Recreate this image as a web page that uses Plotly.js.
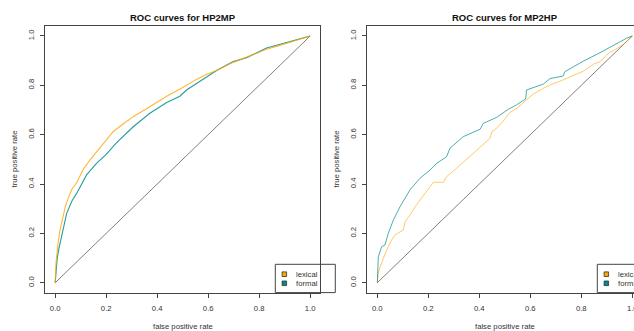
<!DOCTYPE html>
<html>
<head>
<meta charset="utf-8">
<script src="https://cdn.plot.ly/plotly-3.0.1.min.js"></script>
<style>html,body{margin:0;padding:0;background:#fff;}#chart{width:634px;height:331px;}</style>
</head>
<body>
<div id="chart"></div>
<script>
// ---- data ----
const panelTitles = ["ROC curves for HP2MP", "ROC curves for MP2HP"];
const seriesNames = ["lexical", "formal"];
const tickVals = [0, 0.2, 0.4, 0.6, 0.8, 1.0];
const tickText = ["0.0", "0.2", "0.4", "0.6", "0.8", "1.0"];
const diagX = [0, 1];
const diagY = [0, 1];

const hp2mpLexicalFpr = [0,0.003,0.010,0.018,0.031,0.040,0.058,0.066,0.084,0.110,0.136,0.169,0.188,0.227,0.262,0.306,0.371,0.437,0.502,0.550,0.594,0.633,0.698,0.751,0.829,0.881,0.940,1];
const hp2mpLexicalTpr = [0,0.079,0.150,0.210,0.268,0.310,0.362,0.380,0.405,0.460,0.497,0.538,0.565,0.612,0.640,0.673,0.713,0.756,0.792,0.822,0.845,0.860,0.893,0.915,0.946,0.962,0.980,1];

const hp2mpFormalFpr = [0,0.003,0.008,0.015,0.025,0.045,0.065,0.084,0.123,0.162,0.200,0.241,0.306,0.371,0.437,0.489,0.515,0.567,0.600,0.633,0.698,0.751,0.829,0.881,0.940,1];
const hp2mpFormalTpr = [0,0.051,0.100,0.140,0.190,0.281,0.330,0.362,0.437,0.484,0.520,0.568,0.632,0.687,0.730,0.756,0.781,0.815,0.840,0.860,0.896,0.912,0.951,0.966,0.985,1];

const mp2hpLexicalFpr = [0,0.004,0.011,0.037,0.056,0.069,0.080,0.102,0.109,0.128,0.148,0.167,0.207,0.220,0.259,0.272,0.311,0.351,0.403,0.442,0.449,0.468,0.494,0.520,0.547,0.586,0.612,0.651,0.677,0.729,0.743,0.782,0.808,0.847,0.873,0.912,0.925,0.965,1];
const mp2hpLexicalTpr = [0,0.040,0.065,0.133,0.173,0.193,0.200,0.214,0.247,0.274,0.308,0.335,0.389,0.407,0.407,0.430,0.464,0.500,0.546,0.585,0.612,0.626,0.656,0.690,0.707,0.741,0.765,0.788,0.801,0.822,0.829,0.846,0.857,0.885,0.896,0.935,0.940,0.966,1];

const mp2hpFormalFpr = [0,0.004,0.017,0.030,0.043,0.063,0.089,0.109,0.128,0.167,0.207,0.233,0.272,0.285,0.337,0.403,0.416,0.468,0.514,0.545,0.573,0.582,0.585,0.651,0.677,0.729,0.735,0.808,0.873,0.939,0.978,1];
const mp2hpFormalTpr = [0,0.105,0.146,0.153,0.200,0.254,0.308,0.342,0.376,0.423,0.457,0.484,0.511,0.545,0.592,0.622,0.646,0.670,0.703,0.720,0.741,0.745,0.781,0.805,0.827,0.838,0.855,0.898,0.932,0.970,0.991,1];

// ---- styling ----
const W = 634, H = 331;
const ORANGE = "#FFA500", TEAL = "#008B8B", GREY = "#808080", INK = "#333333";
const FONT = "Liberation Sans, Arial, sans-serif";
const px = x => x / W;
const py = y => 1 - y / H;

function line(x, y, color, xa, ya, w, op) {
  return {x: x, y: y, type: "scatter", mode: "lines", xaxis: xa, yaxis: ya, opacity: op,
          line: {color: color, width: w}, hoverinfo: "skip", showlegend: false};
}

const data = [
  line(diagX, diagY, GREY, "x", "y", 1, 1),
  line(hp2mpFormalFpr, hp2mpFormalTpr, TEAL, "x", "y", 1.1, 0.85),
  line(hp2mpLexicalFpr, hp2mpLexicalTpr, ORANGE, "x", "y", 1.1, 0.8),
  line(diagX, diagY, GREY, "x2", "y2", 1, 1),
  line(mp2hpLexicalFpr, mp2hpLexicalTpr, ORANGE, "x2", "y2", 1, 0.6),
  line(mp2hpFormalFpr, mp2hpFormalTpr, TEAL, "x2", "y2", 1, 0.7)
];

function axis(domain, range, extra) {
  return Object.assign({
    domain: domain, range: range, tickvals: tickVals, ticktext: tickText,
    ticks: "outside", ticklen: 4, tickcolor: "#444", tickwidth: 1,
    showline: true, linecolor: "#444", linewidth: 1, mirror: true,
    showgrid: false, zeroline: false, fixedrange: true, ticklabeloverflow: "allow",
    tickfont: {family: FONT, size: 7.7, color: INK}
  }, extra || {});
}

// panel geometry (pixels)
const L = {x0: 55.3, box: [45, 320.4]};
const R = {x0: 377.3, box: [367.1, 642.5]};
const yDom = [py(292.6), py(26.1)];

const annotations = [];
const shapes = [];
[[L, 0], [R, 1]].forEach(([P, i]) => {
  const cx = (P.box[0] + P.box[1]) / 2;
  annotations.push({xref: "paper", yref: "paper", x: px(cx), y: py(17), text: "<b>" + panelTitles[i] + "</b>",
    showarrow: false, xanchor: "center", yanchor: "middle", font: {family: FONT, size: 9.5, color: "#111"}});
  annotations.push({xref: "paper", yref: "paper", x: px(cx), y: py(326.5), text: "false positive rate",
    showarrow: false, xanchor: "center", yanchor: "middle", font: {family: FONT, size: 7.7, color: INK}});
  annotations.push({xref: "paper", yref: "paper", x: px(P.x0 - 41.3), y: py(159.4), text: "true positive rate",
    showarrow: false, textangle: -90, xanchor: "center", yanchor: "middle", font: {family: FONT, size: 7.7, color: INK}});
  // legend (bottom right of plot region)
  const lx = P.x0 + 220;
  shapes.push({type: "rect", xref: "paper", yref: "paper", x0: px(lx), x1: px(lx + 60), y0: py(292.6), y1: py(264.3),
    line: {color: "#444", width: 1}, fillcolor: "rgba(0,0,0,0)"});
  const cols = [ORANGE, TEAL];
  const ys = [274.2, 283.3];
  for (let k = 0; k < 2; k++) {
    shapes.push({type: "rect", xref: "paper", yref: "paper", x0: px(lx + 6.8), x1: px(lx + 11.3),
      y0: py(ys[k] + 2.3), y1: py(ys[k] - 2.3), line: {color: "#333", width: 0.8}, fillcolor: cols[k]});
    annotations.push({xref: "paper", yref: "paper", x: px(lx + 18.5), y: py(ys[k]), text: seriesNames[k],
      showarrow: false, xanchor: "left", yanchor: "middle", font: {family: FONT, size: 7.7, color: INK}});
  }
});

const layout = {
  width: W, height: H, margin: {l: 0, r: 0, t: 0, b: 0, pad: 0},
  paper_bgcolor: "#fff", plot_bgcolor: "#fff", showlegend: false,
  xaxis: axis([px(L.box[0]), px(L.box[1])], [-0.04, 1.04], {anchor: "y", ticklabelstandoff: 4}),
  yaxis: axis(yDom, [-0.04, 1.04], {anchor: "x", tickangle: -90, ticklabelstandoff: 3}),
  xaxis2: axis([px(R.box[0]), 1], [-0.04, (W - R.x0) / 255], {anchor: "y2", ticklabelstandoff: 4}),
  yaxis2: axis(yDom, [-0.04, 1.04], {anchor: "x2", tickangle: -90, ticklabelstandoff: 3, mirror: false}),
  annotations: annotations, shapes: shapes
};

Plotly.newPlot("chart", data, layout, {displayModeBar: false, staticPlot: true});
</script>
</body>
</html>
